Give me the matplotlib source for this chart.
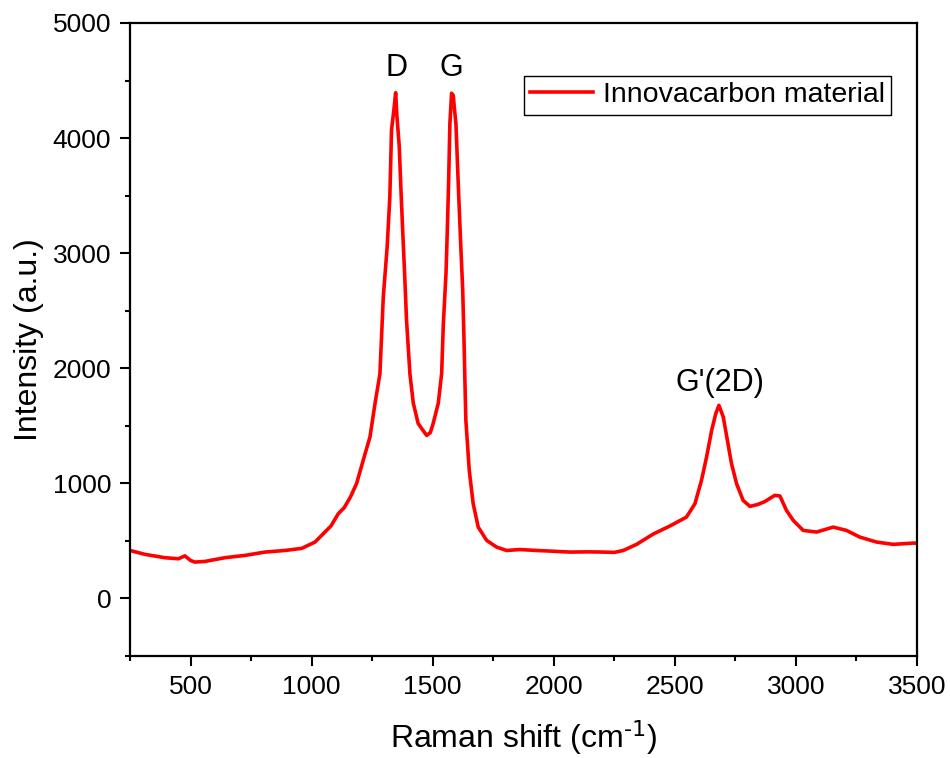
import matplotlib
matplotlib.use("Agg")
import matplotlib.pyplot as plt
from matplotlib.ticker import MultipleLocator

plt.rcParams['font.family'] = ['Liberation Sans', 'DejaVu Sans']
plt.rcParams['mathtext.default'] = 'regular'

raman_shift = [250, 312, 394, 450, 477, 500, 518, 560, 642, 725, 807, 890, 959, 1014,
               1055, 1080, 1110, 1135, 1160, 1186, 1213, 1241, 1262, 1282, 1296, 1312,
               1323, 1330, 1340, 1347, 1352, 1362, 1369, 1376, 1384, 1392, 1406, 1420,
               1440, 1460, 1475, 1490, 1502, 1523, 1537, 1544, 1555, 1560, 1566, 1571,
               1578, 1585, 1590, 1596, 1606, 1615, 1624, 1629, 1633, 1637, 1651, 1667,
               1688, 1723, 1764, 1805, 1860, 1929, 2000, 2067, 2140, 2204, 2250, 2287,
               2342, 2411, 2480, 2548, 2583, 2610, 2631, 2652, 2669, 2682, 2700, 2717,
               2734, 2755, 2782, 2810, 2840, 2870, 2913, 2934, 2961, 2989, 3030, 3085,
               3154, 3209, 3264, 3333, 3402, 3484, 3500]
intensity = [417, 383, 354, 345, 370, 330, 316, 322, 354, 374, 403, 417, 435, 490,
             577, 630, 736, 790, 880, 1000, 1200, 1403, 1696, 1950, 2620, 3055,
             3490, 4070, 4250, 4394, 4200, 3925, 3548, 3200, 2826, 2417, 1950, 1696,
             1520, 1460, 1417, 1440, 1520, 1696, 1954, 2388, 2826, 3170, 3635, 4125,
             4390, 4370, 4250, 4125, 3577, 3113, 2678, 2272, 1896, 1548, 1113, 826,
             620, 504, 446, 417, 425, 417, 410, 403, 405, 403, 400, 417,
             470, 560, 630, 707, 823, 1026, 1229, 1461, 1606, 1678, 1577, 1374,
             1171, 997, 852, 800, 815, 840, 896, 890, 765, 678, 591, 577,
             620, 591, 533, 490, 470, 481, 480]

series_label = "Innovacarbon material"
peak_labels = ["D", "G", "G'(2D)"]
peak_pos = [1352, 1575, 2686]
peak_text_y = [4609, 4609, 1870]

fig = plt.figure(figsize=(9.5, 7.58), dpi=100)
ax = fig.add_axes([130/950, 1-656/758, 787/950, 633/758])

ax.plot(raman_shift, intensity, color='#ff0000', lw=2.6, label=series_label)

ax.set_xlim(250, 3500)
ax.set_ylim(-500, 5000)
ax.xaxis.set_major_locator(MultipleLocator(500))
ax.xaxis.set_minor_locator(MultipleLocator(250))
ax.yaxis.set_major_locator(MultipleLocator(1000))
ax.yaxis.set_minor_locator(MultipleLocator(500))

for s in ax.spines.values():
    s.set_linewidth(1.6)
ax.tick_params(which='major', direction='out', length=7.5, width=1.5, labelsize=19, pad=6)
ax.tick_params(which='minor', direction='out', length=3.8, width=1.5)

ax.set_xlabel("Raman shift (cm$^{\\text{-1}}$)", fontsize=23, labelpad=14)
ax.set_ylabel("Intensity (a.u.)", fontsize=23, labelpad=6)

for lab, xp, yp in zip(peak_labels, peak_pos, peak_text_y):
    ax.text(xp, yp, lab, fontsize=22, ha='center', va='center')

leg = ax.legend(loc='upper right', bbox_to_anchor=(0.967, 0.916), borderaxespad=0,
                fontsize=20.5, frameon=True, fancybox=False, framealpha=1,
                edgecolor='black', handlelength=2.2, handletextpad=0.35,
                borderpad=0.22)
leg.get_frame().set_linewidth(1.0)

fig.savefig("out.png", dpi=100)
